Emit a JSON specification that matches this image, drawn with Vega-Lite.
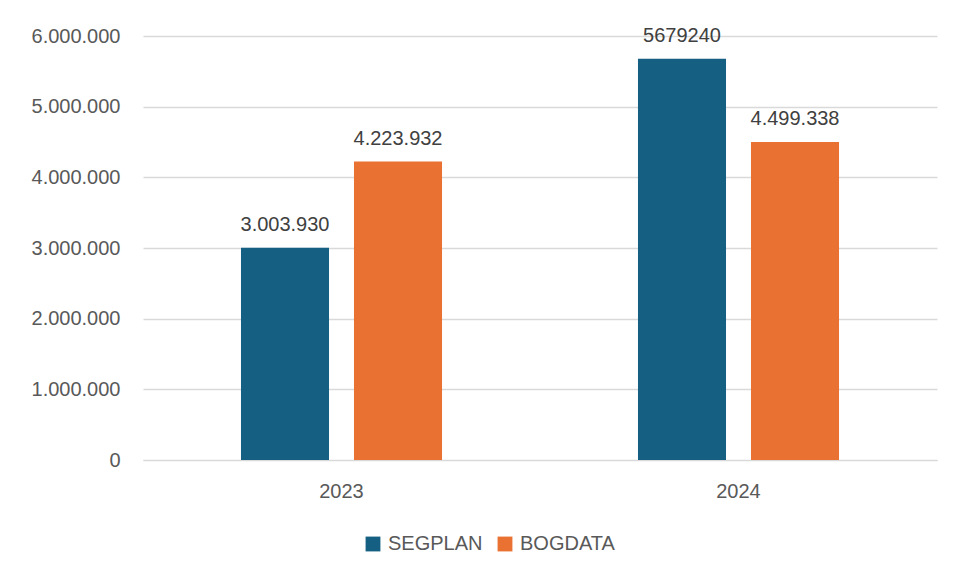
{
  "$schema": "https://vega.github.io/schema/vega-lite/v6.json",
  "autosize": {"type": "none"},
  "width": 794,
  "height": 424,
  "padding": {"left": 143, "top": 36, "right": 17, "bottom": 117},
  "background": "white",
  "config": {
    "font": "Liberation Sans",
    "view": {"stroke": null}
  },
  "data": {
    "values": [
      {"year": "2023", "source": "SEGPLAN", "value": 3003930, "label": "3.003.930"},
      {"year": "2023", "source": "BOGDATA", "value": 4223932, "label": "4.223.932"},
      {"year": "2024", "source": "SEGPLAN", "value": 5679240, "label": "5679240"},
      {"year": "2024", "source": "BOGDATA", "value": 4499338, "label": "4.499.338"}
    ]
  },
  "encoding": {
    "x": {
      "field": "year", "type": "nominal",
      "scale": {"paddingInner": 0, "paddingOuter": 0},
      "axis": {"title": null, "labelAngle": 0, "labelFontSize": 20, "labelColor": "#595959", "labelPadding": 21, "ticks": false, "domainColor": "#d9d9d9", "grid": false}
    },
    "xOffset": {
      "field": "source", "type": "nominal", "sort": ["SEGPLAN", "BOGDATA"],
      "scale": {"paddingInner": 0.221, "paddingOuter": 0.867}
    },
    "y": {
      "field": "value", "type": "quantitative",
      "scale": {"domain": [0, 6000000]},
      "axis": {"title": null, "values": [0, 1000000, 2000000, 3000000, 4000000, 5000000, 6000000], "labelExpr": "replace(format(datum.value, ','), /,/g, '.')", "labelFontSize": 20, "labelColor": "#595959", "labelPadding": 23, "ticks": false, "domain": false, "gridColor": "#d9d9d9", "gridWidth": 1.3}
    }
  },
  "layer": [
    {
      "mark": {"type": "bar"},
      "encoding": {
        "color": {
          "field": "source", "type": "nominal", "sort": ["SEGPLAN", "BOGDATA"],
          "scale": {"domain": ["SEGPLAN", "BOGDATA"], "range": ["#156082", "#e97132"]},
          "legend": {"title": null, "orient": "none", "legendX": 220, "legendY": 498, "direction": "horizontal", "symbolType": "square", "symbolSize": 220, "symbolStrokeWidth": 0, "labelFontSize": 20, "labelColor": "#595959", "labelOffset": 5, "columnPadding": 12, "symbolOffset": 0}
        }
      }
    },
    {
      "mark": {"type": "text", "dy": -23, "fontSize": 20, "color": "#404040"},
      "encoding": {"text": {"field": "label"}}
    }
  ]
}
